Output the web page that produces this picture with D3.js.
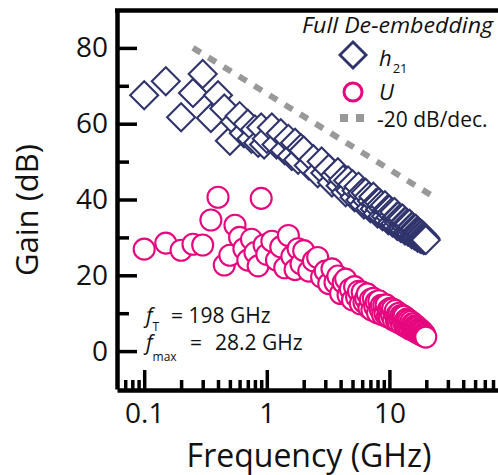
<html>
<head>
  <script src="https://d3js.org/d3.v7.min.js"></script>
  <style>
    body { margin: 0; background: #fff; }
    text { font-family: "Open Sans", sans-serif; fill: #111; }
  </style>
</head>
<body>
  <svg id="chart" width="498" height="475"></svg>
  <script>
    // Frequencies (GHz), shared by both measured series
    const freq = [0.1, 0.15, 0.2, 0.25, 0.3, 0.35, 0.4, 0.45, 0.5, 0.55, 0.6, 0.65, 0.7, 0.75, 0.8, 0.85, 0.9, 0.95,
      1.0, 1.1, 1.2, 1.3, 1.4, 1.5, 1.6, 1.7, 1.8, 1.9,
      2.0, 2.2, 2.4, 2.6, 2.8, 3.0, 3.2, 3.4, 3.6, 3.8,
      4.0, 4.2, 4.4, 4.6, 4.8, 5.0, 5.2, 5.4, 5.6, 5.8,
      6.0, 6.2, 6.4, 6.6, 6.8, 7.0, 7.2, 7.4, 7.6, 7.8,
      8.0, 8.2, 8.4, 8.6, 8.8, 9.0, 9.2, 9.4, 9.6, 9.8,
      10.0, 10.2, 10.4, 10.6, 10.8, 11.0, 11.2, 11.4, 11.6, 11.8,
      12.0, 12.2, 12.4, 12.6, 12.8, 13.0, 13.2, 13.4, 13.6, 13.8,
      14.0, 14.2, 14.4, 14.6, 14.8, 15.0, 15.2, 15.4, 15.6, 15.8,
      16.0, 16.2, 16.4, 16.6, 16.8, 17.0, 17.2, 17.4, 17.6, 17.8,
      18.0, 18.2, 18.4, 18.6, 18.8, 19.0, 19.2, 19.4, 19.6, 19.8];

    // h21 gain (dB)
    const h21 = [67.5, 71.2, 61.7, 68.1, 73.1, 61.5, 67.5, 64.0, 55.5, 60.5, 62.0, 57.5, 60.0, 56.0, 58.5, 55.0, 59.0, 54.5,
      56.0, 59.0, 54.5, 57.5, 53.0, 56.0, 51.5, 55.0, 50.5, 53.5,
      52.9, 49.0, 50.6, 46.9, 50.0, 47.0, 48.1, 44.5, 46.4, 47.2,
      43.6, 45.2, 41.9, 45.0, 42.4, 44.0, 40.6, 42.3, 43.4, 39.9,
      41.7, 38.7, 41.8, 39.6, 40.8, 37.7, 39.6, 40.7, 37.5, 39.1,
      36.3, 39.3, 37.4, 38.6, 35.6, 37.6, 38.5, 35.6, 37.3, 34.5,
      37.3, 35.3, 36.6, 33.9, 35.7, 36.7, 33.7, 35.3, 33.0, 35.6,
      33.9, 35.0, 32.5, 34.1, 35.0, 32.5, 34.0, 31.8, 34.1, 32.6,
      33.6, 31.5, 32.9, 33.6, 31.4, 32.6, 30.8, 32.8, 31.6, 32.3,
      30.5, 31.8, 32.3, 30.4, 31.6, 29.9, 31.5, 30.5, 31.2, 29.7,
      30.8, 29.6, 30.8, 29.8, 30.4, 29.3, 30.1, 29.4, 29.8, 29.3];

    // Unilateral gain U (dB)
    const uGain = [26.9, 28.5, 26.6, 28.2, 28.0, 34.6, 40.6, 22.7, 25.3, 33.2, 30.0, 27.0, 24.0, 29.5, 26.0, 22.5, 40.3, 28.0,
      25.5, 29.0, 24.0, 27.5, 22.0, 30.5, 25.0, 21.5, 27.0, 23.0,
      26.5, 21.1, 23.8, 24.7, 19.5, 21.1, 17.8, 21.7, 18.1, 19.8,
      15.2, 18.1, 19.0, 14.8, 16.4, 13.5, 17.0, 14.3, 15.8, 12.5,
      15.6, 12.9, 13.9, 15.1, 11.4, 13.6, 10.8, 13.9, 11.7, 13.0,
      10.1, 13.3, 11.1, 12.1, 9.6, 12.1, 9.9, 12.2, 9.1, 10.9,
      8.9, 11.3, 9.5, 11.1, 8.2, 10.0, 10.7, 8.0, 9.7, 7.6,
      10.0, 8.2, 9.4, 7.1, 9.3, 7.8, 9.2, 6.6, 8.2, 6.5,
      8.5, 6.7, 8.1, 5.9, 7.3, 7.8, 5.7, 7.2, 5.6, 7.2,
      5.6, 6.7, 5.1, 6.6, 5.4, 6.3, 4.7, 5.9, 4.6, 5.7,
      4.5, 5.4, 4.2, 5.1, 4.1, 4.7, 4.0, 4.4, 3.9, 3.7];

    // -20 dB/decade guide line
    const guideF = [0.25, 22];
    const guideG = [80, 41.1];

    const xMajor = [0.1, 1, 10];
    const xMinor = [0.07, 0.08, 0.09, 0.2, 0.3, 0.4, 0.5, 0.6, 0.7, 0.8, 0.9,
      2, 3, 4, 5, 6, 7, 8, 9, 20, 30, 40, 50, 60, 70, 80, 90];
    const yMajor = [0, 20, 40, 60, 80];
    const yMinor = [10, 30, 50, 70];

    const navy = "#30346c";
    const pink = "#e6077e";

    const svg = d3.select("#chart");

    const x = d3.scaleLog().domain([0.06, 100]).range([117, 512]);
    const y = d3.scaleLinear().domain([-10, 90]).range([389, 10]);

    // Guide line
    svg.append("line")
      .attr("x1", x(guideF[0])).attr("y1", y(guideG[0]))
      .attr("x2", x(guideF[1])).attr("y2", y(guideG[1]))
      .attr("stroke", "#999").attr("stroke-width", 6)
      .attr("stroke-dasharray", "9,9");

    // h21 diamonds
    const diamond = d3.symbol(d3.symbolSquare, 392);
    svg.append("g").selectAll("path").data(freq).join("path")
      .attr("d", diamond)
      .attr("transform", (d, i) => `translate(${x(d)},${y(h21[i])}) rotate(45)`)
      .attr("fill", "#fff")
      .attr("stroke", navy)
      .attr("stroke-width", 2.1);

    // U circles
    svg.append("g").selectAll("circle").data(freq).join("circle")
      .attr("cx", d => x(d))
      .attr("cy", (d, i) => y(uGain[i]))
      .attr("r", 10.5)
      .attr("fill", "#fff")
      .attr("stroke", pink)
      .attr("stroke-width", 2.1);

    // Axes
    svg.append("g").attr("transform", "translate(0,390)")
      .call(d3.axisBottom(x).tickValues(xMajor).tickFormat(d => d).tickSize(-20).tickSizeOuter(0).tickPadding(13));
    svg.append("g").attr("transform", "translate(0,390)")
      .call(d3.axisBottom(x).tickValues(xMinor).tickFormat("").tickSize(-10).tickSizeOuter(0))
      .select(".domain").remove();

    svg.append("g").attr("transform", "translate(117,0)")
      .call(d3.axisLeft(y).tickValues(yMajor).tickSize(-20).tickSizeOuter(0).tickPadding(9));
    svg.append("g").attr("transform", "translate(117,0)")
      .call(d3.axisLeft(y).tickValues(yMinor).tickFormat("").tickSize(-12).tickSizeOuter(0))
      .select(".domain").remove();

    svg.selectAll(".domain").attr("stroke", "#000").attr("stroke-width", 4.5);
    svg.selectAll(".tick line").attr("stroke", "#000").attr("stroke-width", 3.5);
    svg.selectAll(".tick text").attr("font-size", 28).attr("font-family", "Open Sans").attr("fill", "#111");

    // top border
    svg.append("line")
      .attr("x1", 115).attr("x2", 498).attr("y1", 10.5).attr("y2", 10.5)
      .attr("stroke", "#000").attr("stroke-width", 4.5);

    // Axis titles
    svg.append("text")
      .attr("x", 309).attr("y", 467)
      .attr("text-anchor", "middle").attr("font-size", 32)
      .text("Frequency (GHz)");

    svg.append("text")
      .attr("transform", "translate(38,210) rotate(-90)")
      .attr("text-anchor", "middle").attr("font-size", 31)
      .text("Gain (dB)");

    // Legend
    svg.append("text")
      .attr("x", 302).attr("y", 33)
      .attr("font-size", 21).attr("font-style", "italic")
      .attr("textLength", 191).attr("lengthAdjust", "spacingAndGlyphs")
      .text("Full De-embedding");

    svg.append("path")
      .attr("d", d3.symbol(d3.symbolSquare, 340))
      .attr("transform", "translate(353,55) rotate(45)")
      .attr("fill", "#fff").attr("stroke", navy).attr("stroke-width", 2.8);
    let t = svg.append("text").attr("x", 379).attr("y", 66).attr("font-size", 22);
    t.append("tspan").attr("font-style", "italic").text("h");
    t.append("tspan").attr("font-size", 13).attr("dy", 7).attr("dx", 1).text("21");

    svg.append("circle")
      .attr("cx", 353).attr("cy", 92).attr("r", 9)
      .attr("fill", "#fff").attr("stroke", pink).attr("stroke-width", 3);
    svg.append("text").attr("x", 379).attr("y", 100).attr("font-size", 22)
      .attr("font-style", "italic").text("U");

    svg.append("line")
      .attr("x1", 340).attr("x2", 364).attr("y1", 118).attr("y2", 118)
      .attr("stroke", "#999").attr("stroke-width", 8)
      .attr("stroke-dasharray", "8,8");
    svg.append("text").attr("x", 377).attr("y", 127).attr("font-size", 21)
      .text("-20 dB/dec.");

    // Annotations
    let a1 = svg.append("text").attr("y", 323).attr("font-size", 21);
    a1.append("tspan").attr("x", 146).attr("font-style", "italic").text("f");
    a1.append("tspan").attr("font-size", 12).attr("dy", 8).text("T");
    a1.append("tspan").attr("x", 171).attr("dy", -8).text("= 198 GHz");

    let a2 = svg.append("text").attr("y", 350).attr("font-size", 21);
    a2.append("tspan").attr("x", 146).attr("font-style", "italic").text("f");
    a2.append("tspan").attr("font-size", 12).attr("dy", 11).text("max");
    a2.append("tspan").attr("x", 190).attr("dy", -11).text("=");
    a2.append("tspan").attr("x", 215).text("28.2 GHz");
  </script>
</body>
</html>
